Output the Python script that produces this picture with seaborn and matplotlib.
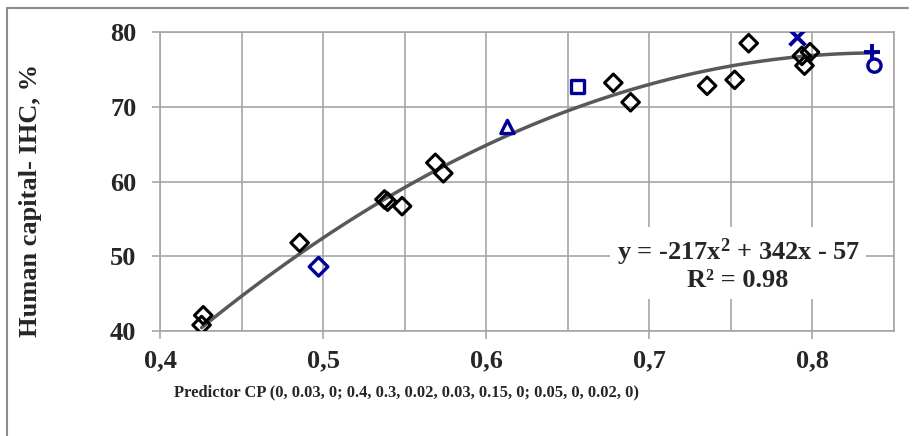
import numpy as np
import pandas as pd
import matplotlib
matplotlib.use("Agg")
import matplotlib.pyplot as plt
import seaborn as sns
from matplotlib.ticker import MultipleLocator, FuncFormatter
from matplotlib.lines import Line2D

# Data
diamond_x = [0.4265, 0.4255, 0.4856, 0.5376, 0.5395, 0.5484, 0.5688, 0.5737,
             0.6779, 0.6885, 0.7354, 0.7523, 0.7609, 0.7935, 0.7985, 0.7951]
diamond_y = [42.1, 40.8, 51.8, 57.6, 57.3, 56.7, 62.5, 61.1,
             73.2, 70.6, 72.8, 73.6, 78.5, 76.8, 77.3, 75.5]

blue_names = ['diamond', 'triangle', 'square', 'cross', 'plus', 'circle']
blue_x = [0.4972, 0.613, 0.6558, 0.7904, 0.8363, 0.838]
blue_y = [48.6, 67.3, 72.7, 79.3, 77.3, 75.5]
blue_markers = ['D', '^', 's', 'x', '+', 'o']

equation = "y = -217x$^2$ + 342x - 57"
r2_text = "R² = 0.98"
x_label = "Predictor CP (0, 0.03, 0; 0.4, 0.3, 0.02, 0.03, 0.15, 0; 0.05, 0, 0.02, 0)"
y_label = "Human capital- IHC, %"

navy = "#000099"
grid_col = "#a6a6a6"

sns.set_style("white")
plt.rcParams['font.family'] = ['Liberation Serif', 'DejaVu Serif']
plt.rcParams['mathtext.fontset'] = 'custom'
plt.rcParams['mathtext.rm'] = 'Liberation Serif:bold'
plt.rcParams['mathtext.it'] = 'Liberation Serif:bold'
plt.rcParams['mathtext.bf'] = 'Liberation Serif:bold'

fig = plt.figure(figsize=(9.18, 4.36), dpi=100)
ax = fig.add_axes([0.1743, 0.2408, 0.7996, 0.6858])

df_all = pd.DataFrame({'x': diamond_x + blue_x, 'y': diamond_y + blue_y})

# quadratic trend line over all points
sns.regplot(data=df_all, x='x', y='y', order=2, scatter=False, ci=None,
            color='#595959', line_kws={'linewidth': 2.5, 'zorder': 3}, ax=ax)

df_d = pd.DataFrame({'x': diamond_x, 'y': diamond_y})
sns.scatterplot(data=df_d, x='x', y='y', marker='D', s=80, facecolor='none',
                edgecolor='black', linewidth=2.2, zorder=4, ax=ax)

for name, bx, by, m in zip(blue_names, blue_x, blue_y, blue_markers):
    d = pd.DataFrame({'x': [bx], 'y': [by]})
    if m in ('x', '+'):
        sns.scatterplot(data=d, x='x', y='y', marker=m, s=130, color=navy,
                        linewidth=2.8, zorder=5, ax=ax)
    else:
        sns.scatterplot(data=d, x='x', y='y', marker=m, s=90, facecolor='none',
                        edgecolor=navy, linewidth=2.4, zorder=5, ax=ax)

ax.set_xlim(0.4, 0.85)
ax.set_ylim(40, 80)
ax.xaxis.set_major_locator(MultipleLocator(0.1))
ax.xaxis.set_minor_locator(MultipleLocator(0.05))
ax.yaxis.set_major_locator(MultipleLocator(10))
ax.xaxis.set_major_formatter(FuncFormatter(lambda v, p: f"{v:.1f}".replace('.', ',')))
ax.grid(True, which='both', axis='x', color=grid_col, linewidth=1.2)
ax.grid(True, which='major', axis='y', color=grid_col, linewidth=1.2)
ax.set_axisbelow(True)
for s in ax.spines.values():
    s.set_color(grid_col)
    s.set_linewidth(1.2)
ax.tick_params(axis='both', which='major', direction='out', length=6, width=1.2,
               color=grid_col, labelsize=19, pad=7)
ax.tick_params(axis='y', which='major', pad=11)
ax.tick_params(axis='x', which='minor', length=0)
ax.tick_params(axis='both', which='major', left=True, bottom=True)
for lab in ax.get_xticklabels() + ax.get_yticklabels():
    lab.set_fontweight('bold')

ax.set_xlabel('')
ax.set_ylabel('')
fig.text(31 / 918, 1 - 200 / 436, y_label, rotation=90, ha='center', va='center',
         fontsize=19, fontweight='bold')
fig.text(406 / 918, 1 - 392 / 436, x_label, ha='center', va='center',
         fontsize=11.9, fontweight='bold')

ax.text(0.7544, 48.9, equation + "\n" + r2_text, ha='center', va='center',
        fontsize=19, fontweight='bold', linespacing=1.05, zorder=6,
        bbox=dict(facecolor='white', edgecolor='none', pad=5))

# outer chart border (left and top edges visible)
fig.add_artist(Line2D([7 / 918, 7 / 918], [0, 1 - 8 / 436], color='#8c8c8c', linewidth=1.5))
fig.add_artist(Line2D([7 / 918, 908 / 918], [1 - 8 / 436, 1 - 8 / 436], color='#8c8c8c', linewidth=1.5))

fig.savefig("out.png", dpi=100)
